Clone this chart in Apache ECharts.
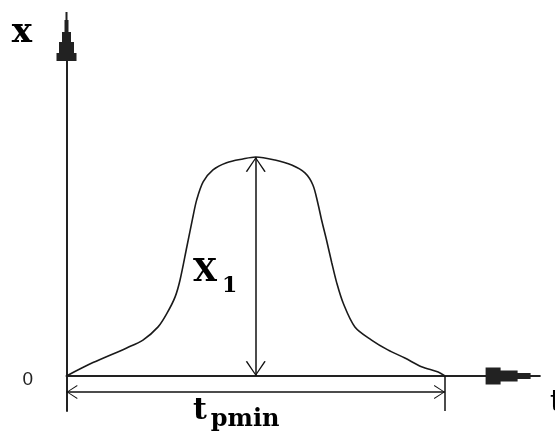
<!DOCTYPE html>
<html>
<head>
<meta charset="utf-8">
<script src="https://cdn.jsdelivr.net/npm/echarts@6/dist/echarts.min.js"></script>
<style>
  html, body { margin: 0; padding: 0; background: #fff; }
  #chart { width: 555px; height: 432px; }
</style>
</head>
<body>
<div id="chart"></div>
<script>
// pulse curve (t in % of tpmin, x in % of X1)
const curveT = [0, 7.0, 15.9, 20.2, 24.2, 26.6, 28.7, 30.0, 31.8, 33.4, 34.4, 36.1, 38.7, 42.3, 46.6, 50,
  55.1, 59.5, 63.0, 65.1, 66.4, 67.4, 68.7, 70.1, 71.4, 73.1, 76.2, 80.6, 84.9, 89.4, 93.8, 98.2, 100]
const curveX = [0, 6.1, 12.8, 16.4, 22.4, 28.8, 36.1, 43.8, 59.0, 72.6, 80.4, 88.6, 94.1, 97.4, 99.1, 100,
  98.6, 96.3, 92.7, 87.2, 79.0, 71.2, 62.1, 51.6, 42.5, 33.3, 22.4, 16.4, 11.9, 8.2, 4.2, 1.8, 0]

const peakT = 50      // where X1 is measured
const X1 = 100
const tpmin = 100
const dimY = -7.3     // level of the tpmin dimension line
const extY = -16      // bottom of the extension lines
const tMax = 118
const xMax = 155
const zeroLabels = [0]

// stepped arrow heads of the axes, and an open arrow for dimension lines
const yArrow = 'path://M9,0 L11,0 L11,8 L12,8 L12,20 L14.5,20 L14.5,30 L17.5,30 L17.5,41 L20,41 L20,49 L0,49 L0,41 L2.5,41 L2.5,30 L5.5,30 L5.5,20 L8,20 L8,8 L9,8 Z'
const xArrow = 'path://M7.5,0 L9.5,0 L9.5,10 L11.5,10 L11.5,23 L14,23 L14,40 L17,40 L17,55 L0,55 L0,40 L3,40 L3,23 L5.5,23 L5.5,10 L7.5,10 Z'
const chevron = 'path://M10,-16.6 M10,0 L20,16 L18.6,16.6 L10,2.2 L1.4,16.6 L0,16 Z'

const serif = 'DejaVu Serif'
const axisColor = '#222'

const chart = echarts.init(document.getElementById('chart'))

const option = {
  animation: false,
  grid: {
    left: 66.5,
    width: 446.6,
    top: 36.5,
    height: 374.5,
    outerBoundsMode: 'none'
  },
  xAxis: {
    type: 'value',
    min: 0,
    max: tMax,
    axisLine: {
      show: true,
      onZero: true,
      symbol: ['none', xArrow],
      symbolSize: [17, 55],
      lineStyle: { color: axisColor, width: 2 }
    },
    axisTick: { show: false },
    axisLabel: { show: false },
    splitLine: { show: false },
    name: 't',
    nameLocation: 'end',
    nameGap: 37,
    nameMoveOverlap: false,
    nameTextStyle: {
      fontFamily: serif, fontWeight: 'bold', fontSize: 30, color: '#000',
      align: 'left', verticalAlign: 'top', lineHeight: 54
    }
  },
  yAxis: {
    type: 'value',
    min: extY,
    max: xMax,
    axisLine: {
      show: true,
      symbol: ['none', yArrow],
      symbolSize: [20, 49],
      lineStyle: { color: axisColor, width: 2 }
    },
    axisTick: { show: false },
    splitLine: { show: false },
    axisLabel: {
      customValues: zeroLabels,
      margin: 33.5,
      fontFamily: 'Liberation Sans',
      fontSize: 19,
      color: '#222',
      verticalAlign: 'top',
      lineHeight: 8
    },
    name: 'x',
    nameLocation: 'end',
    nameGap: 3,
    nameMoveOverlap: false,
    nameTextStyle: {
      fontFamily: serif, fontWeight: 'bold', fontSize: 34, color: '#000',
      align: 'right', verticalAlign: 'middle', padding: [0, 34.5, 0, 0]
    }
  },
  series: [
    {
      type: 'line',
      data: curveT.map((t, i) => [t, curveX[i]]),
      smooth: 0.3,
      symbol: 'none',
      clip: false,
      silent: true,
      lineStyle: { color: '#1a1a1a', width: 1.6 },
      markLine: {
        silent: true,
        symbol: 'none',
        label: { show: false },
        lineStyle: { color: '#111', width: 1.5, type: 'solid' },
        data: [
          [
            { coord: [peakT, 0], symbol: chevron, symbolSize: [20, 30] },
            { coord: [peakT, X1], symbol: chevron, symbolSize: [20, 30] }
          ],
          [
            { coord: [0, dimY], symbol: chevron, symbolSize: [14, 22] },
            { coord: [tpmin, dimY], symbol: chevron, symbolSize: [14, 22] }
          ],
          [
            { coord: [tpmin, 0] },
            { coord: [tpmin, extY] }
          ]
        ]
      },
      markPoint: {
        silent: true,
        symbol: 'circle',
        symbolSize: 1,
        itemStyle: { color: 'rgba(0,0,0,0)' },
        label: { show: true, position: 'inside', align: 'left', verticalAlign: 'middle', color: '#000' },
        data: [
          {
            coord: [33.4, 41.1],
            label: {
              formatter: '{a|X}{b|1}',
              rich: {
                a: { fontFamily: serif, fontWeight: 'bold', fontSize: 31, lineHeight: 30, verticalAlign: 'top', color: '#000' },
                b: { fontFamily: serif, fontWeight: 'bold', fontSize: 22, lineHeight: 56, padding: [0, 0, 0, 5], color: '#000' }
              }
            }
          },
          {
            coord: [33.4, extY],
            label: {
              formatter: '{a|t}{b|pmin}',
              offset: [0, 9],
              rich: {
                a: { fontFamily: serif, fontWeight: 'bold', fontSize: 30, lineHeight: 30, verticalAlign: 'top', color: '#000' },
                b: { fontFamily: serif, fontWeight: 'bold', fontSize: 24, lineHeight: 48, padding: [0, 0, 0, 4], color: '#000' }
              }
            }
          }
        ]
      }
    }
  ]
}

chart.setOption(option)
</script>
</body>
</html>
